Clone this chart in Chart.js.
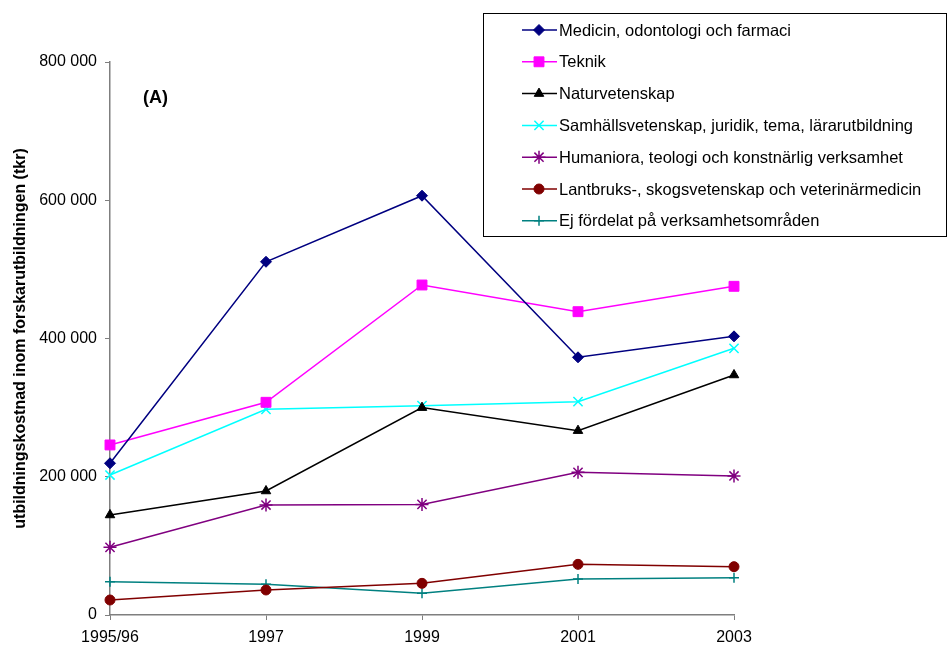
<!DOCTYPE html>
<html>
<head>
  <title>Utbildningskostnad inom forskarutbildningen</title>
  <script src="https://cdn.jsdelivr.net/npm/chart.js"></script>
  <style>
    body { margin: 0; background: #fff; }
  </style>
</head>
<body>
  <canvas id="canvas" width="948" height="646"></canvas>
  <script>
    // tkr per år och verksamhetsområde
    var years = ['1995/96', '1997', '1999', '2001', '2003'];
    var medicin = [219500, 511000, 606600, 372800, 403100];
    var teknik = [246000, 307700, 477400, 438800, 475500];
    var naturvetenskap = [144700, 179400, 300000, 266700, 347200];
    var samhall = [202500, 297500, 302800, 308600, 385800];
    var humaniora = [97900, 159100, 160000, 206400, 201100];
    var lantbruk = [21700, 36200, 45800, 73300, 69900];
    var ejFordelat = [48200, 44400, 31300, 52100, 54000];
    var yTicks = [0, 200000, 400000, 600000, 800000];

    var FONT = "'Liberation Sans', Arial, sans-serif";

    function series(label, data, color, style, radius) {
      return {
        label: label,
        data: data,
        borderColor: color,
        backgroundColor: color,
        borderWidth: 1.5,
        pointStyle: style,
        pointRadius: radius,
        pointHoverRadius: radius,
        pointBorderWidth: style === 'crossRot' || style === 'star' || style === 'cross' ? 1.5 : 1,
        tension: 0,
        fill: false
      };
    }

    var datasets = [
      series('Medicin, odontologi och farmaci', medicin, '#000080', 'rectRot', 5.5),
      series('Teknik', teknik, '#ff00ff', 'rect', 7),
      series('Naturvetenskap', naturvetenskap, '#000000', 'triangle', 5.5),
      series('Samhällsvetenskap, juridik, tema, lärarutbildning', samhall, '#00ffff', 'crossRot', 6.5),
      series('Humaniora, teologi och konstnärlig verksamhet', humaniora, '#800080', 'star', 6.5),
      series('Lantbruks-, skogsvetenskap och veterinärmedicin', lantbruk, '#800000', 'circle', 5),
      series('Ej fördelat på verksamhetsområden', ejFordelat, '#008080', 'cross', 5)
    ];

    // legend box + panel label drawn on top of the chart
    var boxLegend = {
      id: 'boxLegend',
      afterDraw: function(chart) {
        var ctx = chart.ctx;
        ctx.save();
        ctx.fillStyle = '#fff';
        ctx.fillRect(483, 13, 464, 224);
        ctx.strokeStyle = '#000';
        ctx.lineWidth = 1;
        ctx.strokeRect(483.5, 13.5, 463, 223);

        chart.data.datasets.forEach(function(ds, i) {
          var y = 30 + i * 31.8;
          ctx.strokeStyle = ds.borderColor;
          ctx.fillStyle = ds.backgroundColor;
          ctx.lineWidth = ds.borderWidth;
          ctx.beginPath();
          ctx.moveTo(522, y);
          ctx.lineTo(557, y);
          ctx.stroke();
          ctx.lineWidth = ds.pointBorderWidth;
          Chart.helpers.drawPoint(ctx, {
            pointStyle: ds.pointStyle,
            radius: ds.pointRadius,
            rotation: 0,
            borderWidth: ds.pointBorderWidth
          }, 539, y);
          ctx.fillStyle = '#000';
          ctx.font = '16.5px ' + FONT;
          ctx.textBaseline = 'middle';
          ctx.textAlign = 'left';
          ctx.fillText(ds.label, 559, y + 1);
        });

        ctx.font = 'bold 18px ' + FONT;
        ctx.fillStyle = '#000';
        ctx.textBaseline = 'middle';
        ctx.fillText('(A)', 143, 98);
        ctx.restore();
      }
    };

    var ctx = document.getElementById('canvas').getContext('2d');
    var chart = new Chart(ctx, {
      type: 'line',
      data: { labels: years, datasets: datasets },
      options: {
        responsive: false,
        animation: false,
        layout: { padding: { top: 62, right: 214, bottom: 0, left: 0 } },
        plugins: {
          legend: { display: false },
          tooltip: { enabled: false }
        },
        scales: {
          x: {
            offset: false,
            grid: { drawOnChartArea: false, drawTicks: true, tickLength: 5, color: '#7f7f7f' },
            border: { display: true, color: '#7f7f7f', width: 1.5 },
            ticks: { color: '#000', font: { family: FONT, size: 16 }, padding: 8, maxRotation: 0 },
            afterFit: function(scale) { scale.height = 31; }
          },
          y: {
            min: 0,
            max: 800000,
            afterBuildTicks: function(scale) {
              scale.ticks = yTicks.map(function(v) { return { value: v }; });
            },
            grid: { drawOnChartArea: false, drawTicks: true, tickLength: 5, color: '#7f7f7f' },
            border: { display: true, color: '#7f7f7f', width: 1.5 },
            ticks: {
              color: '#000',
              font: { family: FONT, size: 16 },
              padding: 8,
              callback: function(v) {
                return String(v).replace(/\B(?=(\d{3})+(?!\d))/g, ' ');
              }
            },
            title: {
              display: true,
              text: 'utbildningskostnad inom forskarutbildningen (tkr)',
              color: '#000',
              font: { family: FONT, size: 16, weight: 'bold' },
              padding: { top: 11, bottom: 0 }
            },
            afterFit: function(scale) { scale.width = 110; }
          }
        }
      },
      plugins: [boxLegend]
    });
  </script>
</body>
</html>
